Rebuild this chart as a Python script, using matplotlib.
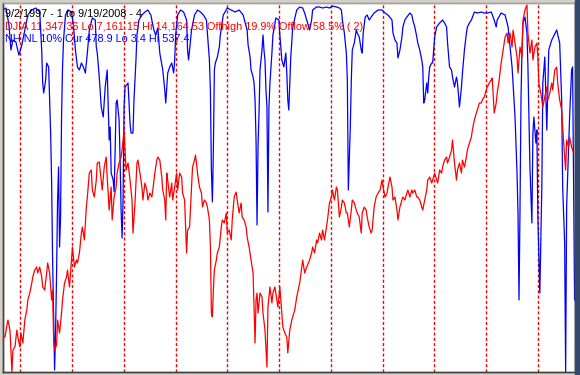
import pandas as pd
import matplotlib.pyplot as plt
from matplotlib.patches import Rectangle

start = pd.Timestamp('1997-09-02')
end = pd.Timestamp('2008-09-19')

# DJIA, weeks since 9/2/1997 and close
djia_wk = [0, 2, 4, 5, 7, 9, 10, 12, 14, 15,
           17, 18, 20, 22, 24, 25, 27, 29, 30, 32,
           34, 35, 37, 39, 40, 42, 44, 45, 47, 49,
           50, 51, 52, 54, 55, 57, 59, 60, 62, 64,
           65, 67, 69, 70, 72, 74, 75, 77, 79, 80,
           82, 84, 85, 87, 89, 90, 92, 94, 95, 97,
           99, 100, 102, 104, 105, 107, 109, 110, 112, 114,
           115, 117, 119, 120, 122, 124, 126, 128, 130, 131,
           133, 135, 136, 138, 140, 141, 143, 145, 146, 148,
           150, 151, 153, 155, 156, 158, 160, 161, 163, 164,
           165, 166, 168, 170, 171, 173, 175, 176, 178, 180,
           181, 183, 185, 186, 188, 190, 191, 193, 194, 195,
           196, 198, 200, 201, 203, 205, 206, 208, 209, 210,
           211, 212, 213, 215, 216, 218, 220, 221, 223, 225,
           226, 228, 230, 231, 233, 235, 236, 238, 240, 241,
           243, 245, 246, 248, 250, 252, 254, 255, 256, 257,
           259, 261, 262, 264, 266, 267, 269, 271, 272, 274,
           276, 277, 279, 281, 282, 284, 286, 287, 289, 291,
           294,
           296, 299, 302, 304, 306, 309, 311, 312, 314, 316,
           317, 319, 321, 322, 324, 326, 327, 329, 331, 332,
           334, 336, 337, 339, 341, 342, 344, 346, 347, 349,
           351, 352, 354, 356, 357, 359, 361, 362, 364, 366,
           367, 369, 371, 372, 374, 376, 378, 380, 382, 383,
           385, 387, 388, 390, 392, 393, 395, 397, 398, 400,
           402, 403, 405, 407, 408, 410, 412, 413, 415, 417,
           418, 420, 422, 423, 425, 427, 428, 430, 432, 433,
           435, 437, 438, 440, 442, 443, 445, 447, 448, 450,
           452, 453, 455, 457, 458, 460, 462, 463, 465, 467,
           468, 470, 472, 473, 475, 477, 478, 480, 482, 483,
           485, 487, 488, 490, 492, 493, 495, 497, 498, 500,
           502, 504, 506, 508, 509, 511, 513, 514, 516, 518,
           519, 521, 523, 524, 526, 528, 529, 531, 533, 534,
           536, 538, 539, 540, 542, 543, 544, 546, 548, 549,
           551, 553, 554, 556, 558, 559, 561, 563, 564, 566,
           567, 568, 570, 571, 573, 575]
djia = [7867, 7829, 8058, 8153, 7962, 7161, 7581, 7638, 7962, 7829,
        7638, 7905, 7714, 8153, 8344, 8535, 8668, 8859, 8974, 9107,
        9164, 9050, 9164, 8974, 8783, 8726, 9050, 9241, 9050, 8535,
        8726, 7772, 7581, 7676, 8153, 7905, 8287, 8535, 8859, 8974,
        9107, 8783, 9298, 9546, 9164, 9298, 9241, 9432, 9813, 9928,
        9680, 10309, 10500, 10958, 11015, 10634, 10500, 10824, 11149, 11168,
        10824, 10634, 11072, 11263, 10882, 10252, 10691, 10061, 10500, 10691,
        10958, 11149, 11263, 11397, 11778, 11015, 11149, 10824, 10443, 9813,
        10386, 11149, 11206, 10958, 10691, 10443, 10767, 10634, 10443, 10576,
        10500, 10634, 10958, 11206, 11263, 11206, 10882, 10634, 10443, 10061,
        10958, 10824, 10500, 10767, 10443, 10691, 10958, 10634, 10958, 10882,
        10576, 10443, 9432, 9870, 9928, 10691, 11072, 11206, 11301, 11149,
        10958, 10691, 10576, 10309, 10443, 10386, 10309, 10061, 9546, 8287,
        8210, 8726, 9107, 9298, 9432, 9546, 9928, 10061, 10004, 10195,
        9813, 9870, 9680, 10061, 10500, 10595, 10443, 10195, 10386, 10118,
        10061, 9928, 9737, 9546, 9298, 9050, 7714, 8535, 8668, 8287,
        8668, 8592, 8287, 7962, 7256, 8401, 8783, 8478, 8668, 8783,
        8535, 8401, 8783, 8287, 8020, 7905, 7829, 7524, 7962, 8153,
        8344,
        8592, 8859, 9298, 9050, 9164, 9298, 9432, 9546, 9432, 9680,
        9622, 9813, 9680, 9870, 9680, 9928, 10061, 10386, 10500, 10634,
        10443, 10691, 10634, 10118, 10309, 10443, 10386, 10195, 10195, 9928,
        10252, 10443, 10386, 10252, 10195, 10118, 9813, 10195, 10309, 10252,
        10118, 9928, 9813, 9870, 10309, 10500, 10576, 10634, 10824, 10691,
        10500, 10576, 10691, 10882, 10691, 10443, 10500, 10252, 10061, 10309,
        10443, 10500, 10443, 10576, 10634, 10500, 10634, 10576, 10634, 10500,
        10500, 10443, 10309, 10252, 10443, 10634, 10824, 10882, 10767, 10824,
        10958, 10824, 10767, 11015, 10958, 11072, 11206, 11263, 11149, 11263,
        11397, 11588, 11149, 10824, 11015, 11149, 10958, 11206, 11072, 11263,
        11397, 11530, 11645, 11778, 11969, 12103, 12160, 12294, 12294, 12351,
        12408, 12542, 12599, 12675, 12732, 12771, 12103, 12294, 12484, 12732,
        13057, 13305, 13553, 13629, 13438, 13629, 13362, 13686, 13438, 13171,
        12866, 13362, 13171, 13877, 14068, 14164, 13629, 13248, 13496, 13114,
        13362, 13438, 13171, 12675, 12484, 12351, 12217, 12408, 12599, 12351,
        12484, 12675, 12542, 12923, 12980, 12675, 12351, 12160, 11836, 11263,
        11015, 11588, 11454, 11645, 11454, 11347]

# NH NL 10%, weeks since 9/2/1997 and value
nhnl_wk = [0, 3, 6, 8, 10, 13, 16, 19, 22, 25, 29, 33, 37, 39, 40, 41, 43, 44, 46, 48,
           49, 50, 52, 53, 54, 55, 56, 57, 58, 59, 60, 61, 63, 66, 69, 71, 73, 75, 77, 79,
           81, 83, 85, 87, 90, 93, 94, 95, 97, 99, 101, 103, 105, 106, 107, 108, 109, 111, 112, 113,
           114, 115, 117, 118, 119, 120, 121, 122, 123, 126, 128, 129, 131, 132, 134, 135, 137, 140, 143, 146,
           149, 152, 154, 156, 158, 161, 163, 164, 166, 168, 170, 172, 173, 174, 176, 179, 182, 185, 186, 187,
           188, 190, 193, 196, 199, 202, 205, 208, 209, 210, 211, 212, 213, 214, 216, 218, 219, 222, 226, 230,
           234, 238, 242, 246, 247, 249, 250, 252, 253, 254, 255, 256, 257, 258, 259, 261, 262, 263, 264, 265,
           266, 267, 268, 269, 271, 272, 275, 278, 279, 281, 283, 285, 286, 287, 288,
           289, 290, 292, 296, 299, 302, 304, 306, 307, 309,
           311, 312, 316, 319, 322, 326, 329, 332, 336, 339,
           341, 342, 344, 346, 347, 348, 350, 351, 352, 354,
           356, 357, 359, 361, 362, 363, 365, 367, 369, 371,
           374, 378, 382, 385, 388, 392, 393, 395, 397, 398,
           400, 402, 403, 405, 407, 410, 412, 413, 415, 417,
           418, 420, 422, 423, 424, 425, 427, 428, 429, 430,
           432, 433, 435, 437, 440, 443, 445, 447, 448, 450,
           452, 453, 455, 457, 458, 460, 462, 463, 465, 467,
           468, 470, 472, 475, 478, 482, 485, 488, 492, 495,
           497, 498, 502, 506, 509, 513, 516, 518, 519, 520,
           521, 522, 523, 524, 526, 528, 529, 531, 533, 534,
           535, 537, 538, 539, 541, 543, 544, 546, 548, 550,
           553, 558, 561, 563, 564, 566, 567, 568, 571, 573,
           574, 576]
nhnl = [530.1, 533.0, 508.3, 471.9, 486.5, 483.6, 464.6, 479.2, 501.0, 522.8, 530.1, 533.0, 527.2, 471.9, 423.9, 409.3, 428.3, 453.0, 447.2, 351.1,
        279.9, 166.4, 6.3, 64.5, 147.4, 253.7, 301.7, 185.3, 228.9, 374.4, 447.2, 486.5, 522.8, 530.1, 527.2, 508.3, 471.9, 447.2, 442.8, 453.0,
        447.2, 438.4, 467.5, 501.0, 518.5, 515.6, 476.3, 467.5, 432.6, 389.0, 374.4, 418.1, 442.8, 389.0, 341.0, 359.9, 292.9, 282.8, 265.3, 326.4,
        394.8, 399.2, 370.1, 311.9, 239.1, 198.4, 253.7, 389.0, 418.1, 423.9, 365.7, 351.1, 351.1, 399.2, 457.4, 493.7, 515.6, 522.8, 527.2, 530.1,
        522.8, 501.0, 493.7, 503.9, 467.5, 442.8, 413.7, 394.8, 438.4, 447.2, 453.0, 438.4, 457.4, 493.7, 522.8, 530.1, 527.2, 515.6, 471.9, 457.4,
        471.9, 501.0, 522.8, 530.1, 527.2, 522.8, 515.6, 457.4, 413.7, 297.3, 250.8, 326.4, 442.8, 453.0, 461.7, 476.3, 493.7, 522.8, 533.0, 530.1,
        527.2, 530.1, 522.8, 501.0, 479.2, 461.7, 442.8, 432.6, 423.9, 399.2, 341.0, 217.3, 330.8, 380.2, 442.8, 471.9, 493.7, 471.9, 457.4, 413.7,
        389.0, 236.2, 389.0, 423.9, 467.5, 493.7, 518.5, 515.6, 493.7, 457.4, 447.2, 467.5, 438.4, 399.2, 384.6,
        425.4, 461.7, 505.4, 530.1, 534.5, 533.0, 525.7, 515.6, 511.2, 501.0,
        515.6, 530.1, 534.5, 534.5, 533.0, 534.5, 533.0, 535.9, 534.5, 533.0,
        530.1, 515.6, 496.6, 467.5, 428.3, 268.2, 359.9, 428.3, 471.9, 482.1,
        501.0, 496.6, 490.8, 471.9, 467.5, 496.6, 519.9, 522.8, 515.6, 519.9,
        525.7, 530.1, 530.1, 525.7, 522.8, 515.6, 496.6, 486.5, 482.1, 460.3,
        471.9, 490.8, 505.4, 515.6, 519.9, 525.7, 522.8, 515.6, 505.4, 490.8,
        482.1, 471.9, 457.4, 447.2, 394.8, 399.2, 423.9, 409.3, 432.6, 447.2,
        453.0, 453.0, 490.8, 505.4, 511.2, 515.6, 511.2, 505.4, 482.1, 447.2,
        442.8, 432.6, 418.1, 432.6, 423.9, 389.0, 418.1, 438.4, 471.9, 496.6,
        505.4, 511.2, 515.6, 527.2, 525.7, 527.2, 525.7, 525.7, 527.2, 515.6,
        505.4, 515.6, 525.7, 522.8, 505.4, 447.2, 374.4, 292.9, 234.7, 108.2,
        239.1, 399.2, 471.9, 511.2, 519.9, 496.6, 447.2, 301.7, 220.2, 351.1,
        374.4, 336.6, 355.5, 228.9, 118.3, 272.6, 423.9, 461.7, 355.5, 471.9,
        486.5, 501.0, 482.1, 399.2, 272.6, 191.1, 3.4, 243.5, 374.4, 442.8,
        447.2, 108.2]

years = list(range(1998, 2009))

title1 = '9/2/1997 - 1 to 9/19/2008 - 4'
title2 = 'DJIA 11,347.36 Lo 7,161.15 Hi 14,164.53 Offhigh 19.9% Offlow 58.5% ( 2)'
title3 = 'NH NL 10% Cur 478.9 Lo 3.4 Hi 537.4'

djia_dates = start + pd.to_timedelta([w * 7 for w in djia_wk], unit='D')
nhnl_dates = start + pd.to_timedelta([w * 7 for w in nhnl_wk], unit='D')

fig = plt.figure(figsize=(5.8, 3.75), dpi=100, facecolor='#d4d0c8')
fig.patches.append(Rectangle((575 / 580, 0), 5 / 580, 1, transform=fig.transFigure,
                             color='#34496b', zorder=0))

ax = fig.add_axes([3 / 580, 3 / 375, 572 / 580, 369 / 375])
ax.set_facecolor('white')

# year separators
for y in years:
    ax.axvline(pd.Timestamp(f'{y}-01-01'), color='#ff0000', lw=1.0, dashes=(2.2, 1.6), zorder=1)

ax.plot(nhnl_dates, nhnl, color='#0000ff', lw=0.9, zorder=2)
ax.set_ylim(3.4, 540.3)
ax.set_xlim(start, end)

ax2 = ax.twinx()
ax2.plot(djia_dates, djia, color='#ff0000', lw=0.9, zorder=3)
ax2.set_ylim(7161.15, 14202.7)

for a in (ax, ax2):
    a.set_xticks([])
    a.set_yticks([])
    for side, sp in a.spines.items():
        sp.set_color('#404040')
        sp.set_linewidth(1.0)
    a.spines['top'].set_color('#a0a0a0')

fonts = ['Liberation Sans Narrow', 'Liberation Sans', 'DejaVu Sans']
fig.text(5 / 580, 1 - 17 / 375, title1, color='black', fontsize=7.8, family=fonts, va='baseline')
fig.text(5 / 580, 1 - 29.5 / 375, title2, color='#ff0000', fontsize=7.8, family=fonts, va='baseline')
fig.text(5 / 580, 1 - 42 / 375, title3, color='#0000ff', fontsize=7.8, family=fonts, va='baseline')

fig.savefig('out.png', dpi=100, facecolor=fig.get_facecolor())
